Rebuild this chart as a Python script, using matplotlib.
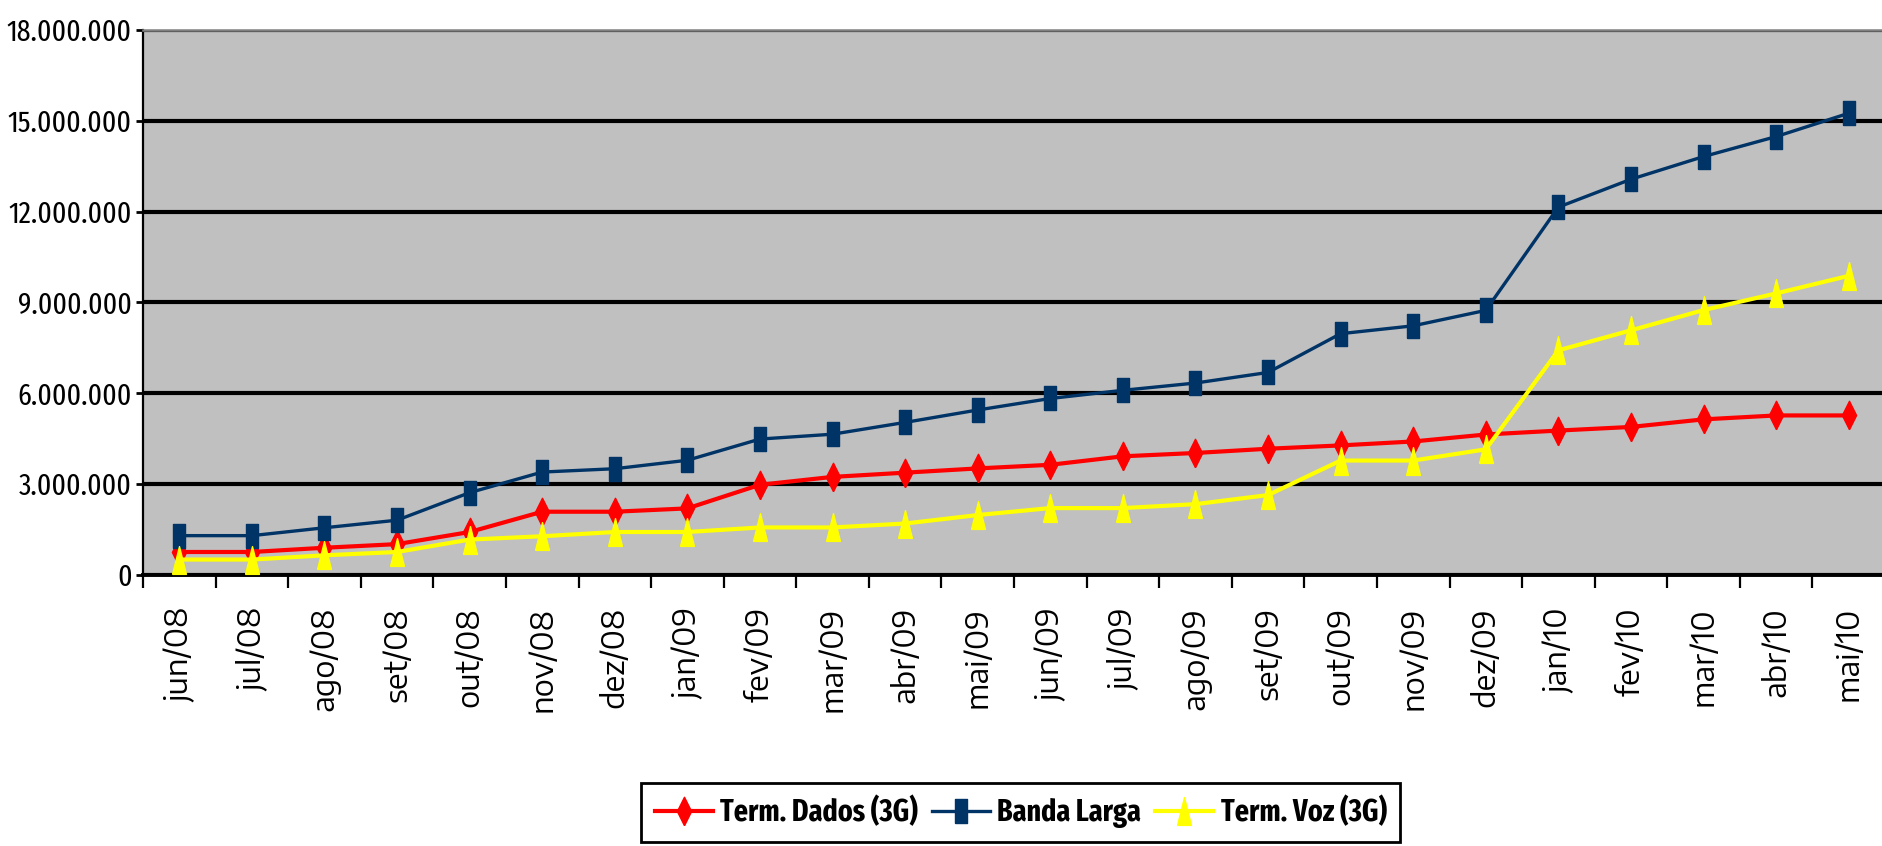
import matplotlib
matplotlib.use('Agg')
import matplotlib.pyplot as plt
from matplotlib import font_manager
from matplotlib.ticker import FuncFormatter, FixedLocator
import numpy as np

# meses (jun/08 .. mai/10)
meses = ['jun/08', 'jul/08', 'ago/08', 'set/08', 'out/08', 'nov/08', 'dez/08',
         'jan/09', 'fev/09', 'mar/09', 'abr/09', 'mai/09', 'jun/09', 'jul/09',
         'ago/09', 'set/09', 'out/09', 'nov/09', 'dez/09', 'jan/10', 'fev/10',
         'mar/10', 'abr/10', 'mai/10']

# acessos (milhoes)
term_dados = [0.76, 0.76, 0.90, 1.02, 1.42, 2.09, 2.09, 2.20, 2.98, 3.24, 3.38, 3.52,
              3.64, 3.92, 4.03, 4.17, 4.28, 4.41, 4.64, 4.77, 4.89, 5.14, 5.27, 5.27]
banda_larga = [1.30, 1.30, 1.56, 1.81, 2.72, 3.40, 3.51, 3.79, 4.49, 4.65, 5.04, 5.45,
               5.83, 6.10, 6.34, 6.69, 7.97, 8.23, 8.74, 12.15, 13.07, 13.82, 14.48, 15.25]
term_voz = [0.51, 0.51, 0.65, 0.76, 1.17, 1.28, 1.42, 1.42, 1.57, 1.57, 1.70, 1.98,
            2.21, 2.21, 2.34, 2.64, 3.78, 3.78, 4.15, 7.42, 8.08, 8.75, 9.30, 9.88]


def escolhe_fonte(candidatas, precisa_bold=False):
    fontes = font_manager.fontManager.ttflist
    for nome in candidatas:
        achou = [f for f in fontes if f.name == nome]
        if not achou:
            continue
        if precisa_bold and not any(f.weight in (700, 'bold') for f in achou):
            continue
        return nome
    return 'DejaVu Sans'


# fonte estreita (o original parece Arial esticado na vertical)
narrow = escolhe_fonte(['Liberation Sans Narrow', 'Arial Narrow', 'Fira Sans Extra Condensed',
                        'Barlow Condensed', 'Fira Sans Condensed', 'PT Sans Narrow'], precisa_bold=True)
largo = escolhe_fonte(['Encode Sans Semi Expanded', 'DejaVu Sans'])

# marcadores esticados na vertical
diamante = [(0, -1), (0.5, 0), (0, 1), (-0.5, 0), (0, -1)]
retangulo = [(-0.5, -1), (0.5, -1), (0.5, 1), (-0.5, 1), (-0.5, -1)]
triangulo = [(-0.5, -1), (0.5, -1), (0, 1), (-0.5, -1)]

fig = plt.figure(figsize=(18.83, 8.46), dpi=100)
renderer = fig.canvas.get_renderer()


def tamanho_para(texto, largura_px, **kw):
    # tamanho de fonte que deixa o texto com a largura pedida
    t = fig.text(0, 0, texto, fontsize=20, **kw)
    w = t.get_window_extent(renderer).width
    t.remove()
    return 20 * largura_px / w


fs_y = min(tamanho_para('18.000.000', 126, family=narrow), 28)
fs_x = min(tamanho_para('jun/08', 104, family=largo), 22)
fs_leg = min(tamanho_para('Term. Dados (3G)', 198, family=narrow, weight='bold'), 29)

ax = fig.add_axes([143 / 1883, 1 - 575 / 846, 1742 / 1883, 545 / 846])
ax.set_facecolor('#C0C0C0')

x = np.arange(len(meses))
mil = 1e6
ax.plot(x, np.array(term_dados) * mil, color='#FF0000', lw=3, marker=diamante,
        ms=20.5, mec='#FF0000', mfc='#FF0000', label='Term. Dados (3G)', zorder=3)
ax.plot(x, np.array(banda_larga) * mil, color='#003366', lw=2.4, marker=retangulo,
        ms=17.5, mec='#003366', mfc='#003366', label='Banda Larga', zorder=3)
ax.plot(x, np.array(term_voz) * mil, color='#FFFF00', lw=3, marker=triangulo,
        ms=20, mec='#FFFF00', mfc='#FFFF00', label='Term. Voz (3G)', zorder=3)

ax.set_xlim(-0.5, len(meses) - 0.5)
ax.set_ylim(0, 18e6)
ax.set_yticks(np.arange(0, 18e6 + 1, 3e6))
ax.yaxis.set_major_formatter(FuncFormatter(lambda v, p: f'{int(v):,}'.replace(',', '.')))
ax.yaxis.grid(True, color='black', lw=3)
ax.set_axisbelow(True)

ax.xaxis.set_major_locator(FixedLocator(np.arange(-0.5, len(meses), 1)))
ax.xaxis.set_minor_locator(FixedLocator(x))
ax.set_xticklabels([], minor=False)
ax.set_xticks(x, meses, minor=True, rotation=90, fontsize=fs_x, family=largo)
ax.tick_params(axis='x', which='major', length=9, width=1.6, direction='out')
ax.tick_params(axis='x', which='minor', length=0, pad=23)
ax.tick_params(axis='y', length=5, width=2, direction='out', pad=3)
for t in ax.get_yticklabels():
    t.set_family(narrow)
    t.set_fontsize(fs_y)

ax.spines['top'].set_color('#808080')
ax.spines['top'].set_linewidth(1.8)
ax.spines['right'].set_visible(False)
ax.spines['left'].set_linewidth(1.6)
ax.spines['bottom'].set_linewidth(2.8)

leg = fig.legend(loc='upper left', bbox_to_anchor=(641 / 1883, 1 - 783 / 846), ncol=3,
                 frameon=True, fancybox=False, edgecolor='black', framealpha=1,
                 prop={'family': narrow, 'weight': 'bold', 'size': fs_leg},
                 handlelength=1.9, handletextpad=0.25, columnspacing=0.45,
                 borderpad=0.45, borderaxespad=0)
leg.get_frame().set_linewidth(2)

fig.savefig('out.png', dpi=100)
